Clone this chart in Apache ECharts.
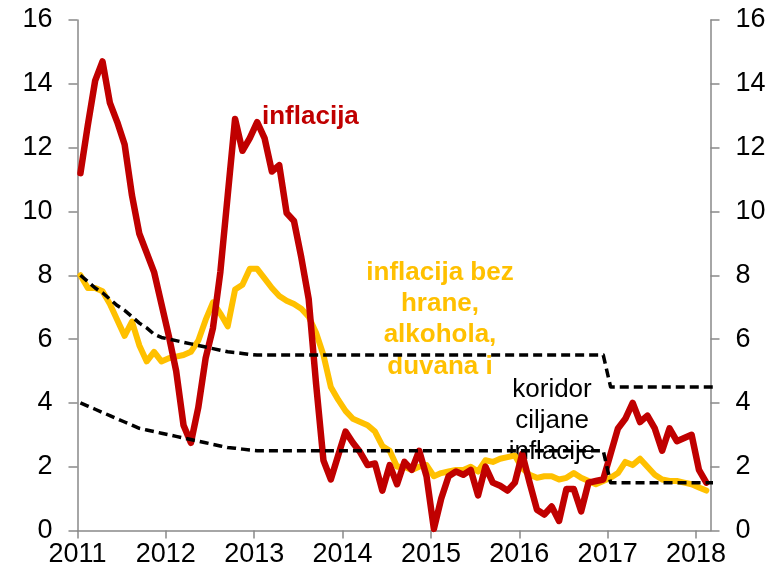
<!DOCTYPE html>
<html>
<head>
<meta charset="utf-8">
<script src="https://cdn.jsdelivr.net/npm/echarts@6/dist/echarts.min.js"></script>
<style>
html,body{margin:0;padding:0;background:#fff;}
#chart{width:780px;height:579px;}
</style>
</head>
<body>
<div id="chart"></div>
<script>
// Monthly data, Jan 2011 - Feb 2018 (corridor to Mar 2018)
const startYear = 2011;
const yearTicks = [2011, 2012, 2013, 2014, 2015, 2016, 2017, 2018];
const yTicks = [0, 2, 4, 6, 8, 10, 12, 14, 16];

const inflacija = [
  11.2, 12.7, 14.1, 14.7, 13.4, 12.8, 12.1, 10.5, 9.3, 8.7, 8.1, 7.1,
  6.1, 5.0, 3.3, 2.75, 3.85, 5.4, 6.35, 8.1, 10.5, 12.9, 11.9, 12.3,
  12.8, 12.3, 11.25, 11.45, 9.95, 9.7, 8.55, 7.25, 4.6, 2.2, 1.6, 2.35,
  3.1, 2.75, 2.45, 2.05, 2.1, 1.25, 2.05, 1.45, 2.15, 1.9, 2.5, 1.7,
  0.05, 1.0, 1.7, 1.85, 1.75, 1.9, 1.1, 2.0, 1.5, 1.4, 1.25, 1.5,
  2.4, 1.5, 0.65, 0.5, 0.75, 0.3, 1.3, 1.3, 0.6, 1.5, 1.55, 1.6,
  2.4, 3.2, 3.5, 4.0, 3.4, 3.6, 3.2, 2.5, 3.2, 2.8, 2.9, 3.0,
  1.9, 1.5
];
const bazna = [
  8.0, 7.6, 7.6, 7.5, 7.1, 6.6, 6.1, 6.55, 5.8, 5.3, 5.6, 5.3,
  5.4, 5.45, 5.5, 5.6, 5.95, 6.6, 7.15, 6.8, 6.4, 7.55, 7.7, 8.2,
  8.2, 7.9, 7.6, 7.35, 7.2, 7.1, 6.95, 6.7, 6.2, 5.5, 4.5, 4.1,
  3.75, 3.5, 3.4, 3.3, 3.1, 2.65, 2.5, 2.0, 2.0, 1.9, 2.0, 2.05,
  1.7, 1.8, 1.85, 1.9, 1.9, 2.0, 1.85, 2.2, 2.15, 2.25, 2.3, 2.35,
  1.95, 1.75, 1.65, 1.7, 1.7, 1.6, 1.65, 1.8, 1.65, 1.55, 1.45, 1.55,
  1.65, 1.8, 2.15, 2.05, 2.25, 2.0, 1.75, 1.6, 1.55, 1.55, 1.5, 1.45,
  1.35, 1.25
];
const koridorGornja = [
  8.0, 7.8, 7.6, 7.45, 7.25, 7.05, 6.9, 6.7, 6.5, 6.35, 6.15, 6.05,
  6.0, 5.95, 5.9, 5.85, 5.8, 5.75, 5.7, 5.65, 5.6, 5.58, 5.55, 5.52,
  5.5, 5.5, 5.5, 5.5, 5.5, 5.5, 5.5, 5.5, 5.5, 5.5, 5.5, 5.5,
  5.5, 5.5, 5.5, 5.5, 5.5, 5.5, 5.5, 5.5, 5.5, 5.5, 5.5, 5.5,
  5.5, 5.5, 5.5, 5.5, 5.5, 5.5, 5.5, 5.5, 5.5, 5.5, 5.5, 5.5,
  5.5, 5.5, 5.5, 5.5, 5.5, 5.5, 5.5, 5.5, 5.5, 5.5, 5.5, 5.5,
  4.5, 4.5, 4.5, 4.5, 4.5, 4.5, 4.5, 4.5, 4.5, 4.5, 4.5, 4.5,
  4.5, 4.5, 4.5
];
const koridorDonja = [
  4.0, 3.9, 3.8, 3.7, 3.6, 3.5, 3.4, 3.3, 3.2, 3.15, 3.1, 3.05,
  3.0, 2.95, 2.9, 2.85, 2.8, 2.75, 2.7, 2.65, 2.6, 2.58, 2.55, 2.52,
  2.5, 2.5, 2.5, 2.5, 2.5, 2.5, 2.5, 2.5, 2.5, 2.5, 2.5, 2.5,
  2.5, 2.5, 2.5, 2.5, 2.5, 2.5, 2.5, 2.5, 2.5, 2.5, 2.5, 2.5,
  2.5, 2.5, 2.5, 2.5, 2.5, 2.5, 2.5, 2.5, 2.5, 2.5, 2.5, 2.5,
  2.5, 2.5, 2.5, 2.5, 2.5, 2.5, 2.5, 2.5, 2.5, 2.5, 2.5, 2.5,
  1.5, 1.5, 1.5, 1.5, 1.5, 1.5, 1.5, 1.5, 1.5, 1.5, 1.5, 1.5,
  1.5, 1.5, 1.5
];

// month index -> position on the year axis (points sit a bit after month start)
function pairs(arr) {
  return arr.map((v, i) => [startYear + (i + 0.4) / 12, v]);
}

const FONT = "'Liberation Sans', Arial, sans-serif";
const axisGray = '#898989';

const chart = echarts.init(document.getElementById('chart'), null, {renderer: 'canvas'});

const lineSeries = (name, data, color, width, type) => ({
  name: name,
  type: 'line',
  data: pairs(data),
  showSymbol: false,
  symbol: 'none',
  smooth: false,
  silent: true,
  animation: false,
  lineStyle: {color: color, width: width, type: type || 'solid', join: 'round', cap: type ? 'butt' : 'round'}
});

chart.setOption({
  animation: false,
  backgroundColor: '#ffffff',
  grid: {left: 77.5, right: 69.5, top: 20, bottom: 48.5, containLabel: false},
  xAxis: {
    type: 'value',
    min: 2011,
    max: 2018.164,
    interval: 1,
    splitLine: {show: false},
    axisLine: {show: true, lineStyle: {color: axisGray, width: 1.5}},
    axisTick: {show: true, length: 8, inside: false, lineStyle: {color: axisGray, width: 1.5}, customValues: yearTicks},
    axisLabel: {color: '#000', fontFamily: FONT, fontSize: 27, margin: 11, customValues: yearTicks,
      formatter: v => String(Math.round(v))}
  },
  yAxis: [
    {
      type: 'value', position: 'left', min: 0, max: 16, interval: 2,
      splitLine: {show: false},
      axisLine: {show: true, lineStyle: {color: axisGray, width: 1.5}},
      axisTick: {show: true, length: 9, lineStyle: {color: axisGray, width: 1.5}, customValues: yTicks},
      axisLabel: {color: '#000', fontFamily: FONT, fontSize: 27, margin: 25, customValues: yTicks,
        formatter: v => String(v)}
    },
    {
      type: 'value', position: 'right', min: 0, max: 16, interval: 2,
      splitLine: {show: false},
      axisLine: {show: true, lineStyle: {color: axisGray, width: 1.5}},
      axisTick: {show: true, length: 9, lineStyle: {color: axisGray, width: 1.5}, customValues: yTicks},
      axisLabel: {color: '#000', fontFamily: FONT, fontSize: 27, margin: 25, customValues: yTicks,
        formatter: v => String(v)}
    }
  ],
  series: [
    lineSeries('inflacija bez hrane, alkohola, duvana i energije', bazna, '#FFC000', 6),
    lineSeries('inflacija', inflacija, '#C00000', 6.5),
    lineSeries('gornja granica', koridorGornja, '#000000', 3.5, [9, 5]),
    lineSeries('donja granica', koridorDonja, '#000000', 3.5, [9, 5])
  ],
  graphic: [
    {type: 'text', left: 262, top: 104, silent: true,
      style: {text: 'inflacija', font: "bold 26px " + FONT, fill: '#C00000'}},
    {type: 'text', x: 440, y: 257, silent: true,
      style: {text: 'inflacija bez\nhrane,\nalkohola,\nduvana i', font: "bold 26px " + FONT, fill: '#FFC000',
        align: 'center', verticalAlign: 'top', lineHeight: 31.3}},
    {type: 'text', x: 552, y: 374, silent: true,
      style: {text: 'koridor\nciljane\ninflacije', font: "26px " + FONT, fill: '#000000',
        align: 'center', verticalAlign: 'top', lineHeight: 31}}
  ]
});
</script>
</body>
</html>
